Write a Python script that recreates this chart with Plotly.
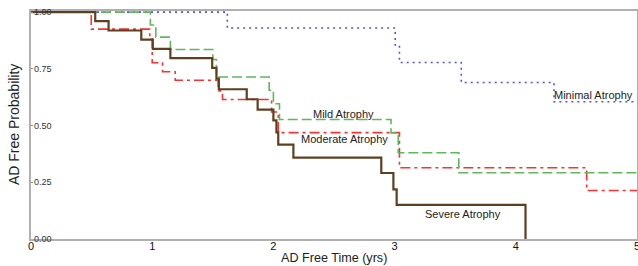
import plotly.graph_objects as go

# ---- data ----
severe_t = [0, 0.53, 0.64, 0.91, 1.005, 1.15, 1.495, 1.53, 1.55, 1.78, 1.87, 2.0, 2.025, 2.04, 2.165, 2.89, 2.99, 3.017, 4.08]
severe_s = [1.0, 0.960, 0.919, 0.879, 0.838, 0.797, 0.754, 0.707, 0.660, 0.616, 0.570, 0.523, 0.470, 0.416, 0.359, 0.291, 0.219, 0.150, 0.0]

mild_t = [0, 0.985, 1.03, 1.15, 1.50, 1.53, 1.965, 2.0, 2.05, 2.97, 3.03, 3.53, 5.0]
mild_s = [1.0, 0.943, 0.890, 0.835, 0.791, 0.714, 0.656, 0.596, 0.527, 0.468, 0.380, 0.292, 0.292]

moderate_t = [0, 0.497, 0.98, 1.0, 1.085, 1.19, 1.545, 1.58, 1.985, 2.04, 3.04, 4.585, 5.0]
moderate_s = [1.0, 0.925, 0.890, 0.777, 0.737, 0.700, 0.653, 0.615, 0.56, 0.469, 0.314, 0.214, 0.214]

minimal_t = [0, 1.62, 3.005, 3.04, 3.55, 4.315, 5.0]
minimal_s = [1.0, 0.930, 0.855, 0.778, 0.690, 0.605, 0.605]

x_ticks = [0, 1, 2, 3, 4, 5]
y_ticks = [0.0, 0.25, 0.5, 0.75, 1.0]
y_tick_text = ["0.00", "0.25", "0.50", "0.75", "1.00"]

labels = ["Mild Atrophy", "Moderate Atrophy", "Severe Atrophy", "Minimal Atrophy"]
label_x = [2.58, 2.59, 3.563, 4.637]
label_y = [0.550, 0.439, 0.110, 0.634]

FONT = "Arial, Liberation Sans, sans-serif"

fig = go.Figure()
fig.add_trace(go.Scatter(x=minimal_t, y=minimal_s, mode="lines", line_shape="hv",
                         line=dict(color="#4f4fff", width=1.6, dash="2px,4px"), showlegend=False))
fig.add_trace(go.Scatter(x=moderate_t, y=moderate_s, mode="lines", line_shape="hv",
                         line=dict(color="#ff3030", width=1.6, dash="10px,4px,3px,4px"), showlegend=False))
fig.add_trace(go.Scatter(x=mild_t, y=mild_s, mode="lines", line_shape="hv",
                         line=dict(color="#5fb85a", width=1.6, dash="10px,4px"), showlegend=False))
fig.add_trace(go.Scatter(x=severe_t, y=severe_s, mode="lines", line_shape="hv",
                         line=dict(color="#5e4020", width=2.2), showlegend=False))

for txt, lx, ly in zip(labels, label_x, label_y):
    fig.add_annotation(x=lx, y=ly, xref="x", yref="y", text=txt, showarrow=False,
                       font=dict(family=FONT, size=11, color="#222222"),
                       xanchor="center", yanchor="middle")

fig.add_annotation(x=0.5, y=-0.085, xref="paper", yref="paper", text="AD Free Time (yrs)",
                   showarrow=False, font=dict(family=FONT, size=12.6, color="#222222"),
                   xanchor="center", yanchor="middle")
fig.add_annotation(x=-0.028, y=0.5, xref="paper", yref="paper", text="AD Free Probability",
                   showarrow=False, textangle=-90, font=dict(family=FONT, size=14, color="#222222"),
                   xanchor="center", yanchor="middle")

fig.update_layout(
    width=638, height=266,
    margin=dict(l=31, r=1, t=11, b=27, autoexpand=False),
    paper_bgcolor="white", plot_bgcolor="white",
    font=dict(family=FONT),
)
fig.update_xaxes(range=[0, 5], tickvals=x_ticks, ticks="", showgrid=False, zeroline=False,
                 showline=True, linecolor="#b0b0b0", linewidth=1.5, mirror=True,
                 automargin=False, ticklabeloverflow="allow", ticklabelstandoff=-4,
                 tickfont=dict(family=FONT, size=11, color="#111111"))
fig.update_yaxes(range=[0, 1.005], tickvals=y_ticks, ticktext=y_tick_text, ticks="inside",
                 ticklen=2, tickcolor="#888888", ticklabelposition="inside",
                 ticklabeloverflow="allow", automargin=False,
                 showgrid=False, zeroline=False,
                 showline=True, linecolor="#b0b0b0", linewidth=1.5, mirror=True,
                 tickfont=dict(family=FONT, size=9, color="#333333"))

fig.write_html("out.html", config={"displayModeBar": False},
               post_script="document.body.style.margin='0';document.body.style.overflow='hidden';")
